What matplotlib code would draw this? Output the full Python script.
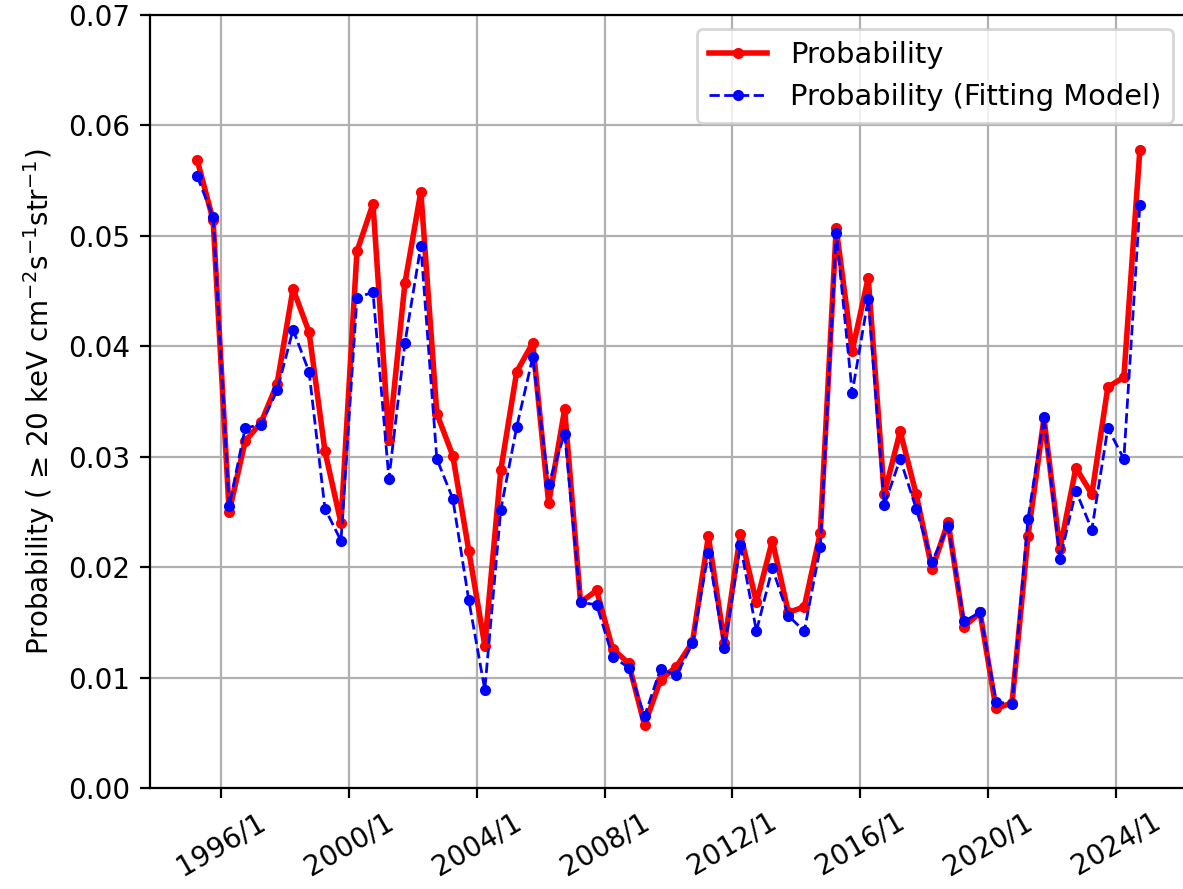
import numpy as np
import pandas as pd
import matplotlib
matplotlib.use('Agg')
import matplotlib.pyplot as plt
import matplotlib.dates as mdates
from matplotlib.ticker import FuncFormatter

# semiannual samples, 1995/4 .. 2024/10
dates = pd.date_range('1995-04-01', periods=60, freq='6MS')

prob = [0.0569, 0.0514, 0.0250, 0.0314, 0.0331, 0.0366, 0.0452, 0.0413, 0.0305, 0.0240,
        0.0486, 0.0529, 0.0315, 0.0457, 0.0540, 0.0339, 0.0301, 0.0215, 0.0129, 0.0288,
        0.0377, 0.0403, 0.0258, 0.0343, 0.0168, 0.0179, 0.0126, 0.0113, 0.0057, 0.0098,
        0.0110, 0.0132, 0.0228, 0.0131, 0.0230, 0.0168, 0.0224, 0.0159, 0.0164, 0.0231,
        0.0507, 0.0396, 0.0462, 0.0266, 0.0323, 0.0266, 0.0198, 0.0241, 0.0146, 0.0159,
        0.0072, 0.0077, 0.0228, 0.0335, 0.0216, 0.0290, 0.0266, 0.0363, 0.0372, 0.0578]

prob_fit = [0.0554, 0.0517, 0.0255, 0.0326, 0.0329, 0.0360, 0.0415, 0.0377, 0.0253, 0.0224,
            0.0444, 0.0449, 0.0280, 0.0403, 0.0491, 0.0298, 0.0262, 0.0170, 0.0089, 0.0252,
            0.0327, 0.0390, 0.0275, 0.0321, 0.0168, 0.0166, 0.0119, 0.0109, 0.0065, 0.0108,
            0.0102, 0.0131, 0.0213, 0.0127, 0.0220, 0.0142, 0.0199, 0.0156, 0.0142, 0.0218,
            0.0503, 0.0358, 0.0443, 0.0256, 0.0298, 0.0253, 0.0205, 0.0237, 0.0151, 0.0159,
            0.0078, 0.0076, 0.0244, 0.0336, 0.0207, 0.0269, 0.0234, 0.0326, 0.0298, 0.0528]

fig = plt.figure(figsize=(1183/200, 889/200), dpi=200)
ax = fig.add_axes([150/1183, 101/889, 1037/1183, 773/889])

ax.plot(dates, prob, 'r.-', lw=2, label='Probability')
ax.plot(dates, prob_fit, 'b.--', lw=1, label='Probability (Fitting Model)')

ax.set_ylim(0, 0.07)
ax.xaxis.set_major_locator(mdates.YearLocator(4, month=1, day=1))
ax.xaxis.set_major_formatter(FuncFormatter(
    lambda v, pos: '{}/{}'.format(mdates.num2date(v).year, mdates.num2date(v).month)))
plt.setp(ax.get_xticklabels(), rotation=30, ha='center')

ax.set_ylabel('Probability ( \u2265 20 keV cm$^{-2}$s$^{-1}$str$^{-1}$)')
ax.grid(True)
ax.legend(loc='upper right', fontsize=10.4)

fig.savefig('out.png', dpi=200)
